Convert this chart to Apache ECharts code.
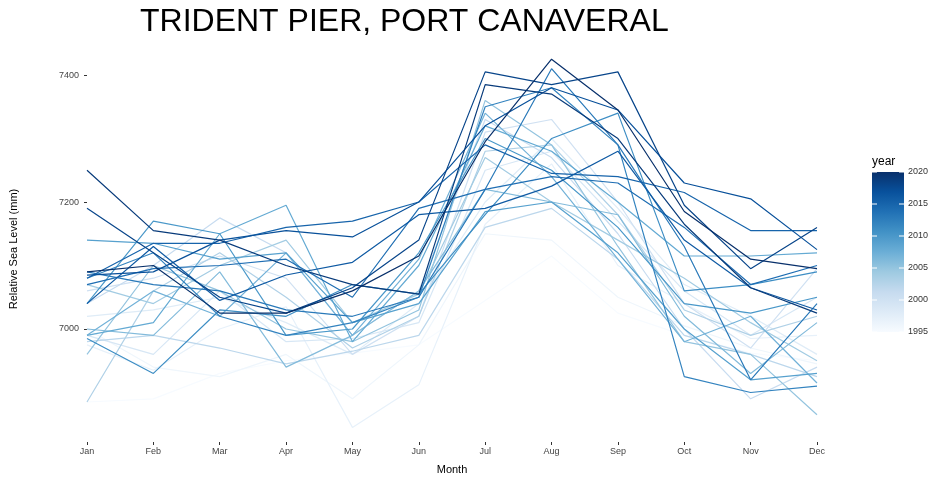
<!DOCTYPE html>
<html lang="en">
<head>
<meta charset="UTF-8"/>
<title>Trident Pier</title>
<script src="https://cdn.jsdelivr.net/npm/echarts@6/dist/echarts.min.js"></script>
</head>
<body style="margin:0">
<div id="main" style="width:940px;height:480px"></div>
<script type="text/javascript">
var months = ['Jan','Feb','Mar','Apr','May','Jun','Jul','Aug','Sep','Oct','Nov','Dec'];
var years = [1995,1996,1997,1998,1999,2000,2001,2002,2003,2004,2005,2006,2007,2008,2009,2010,2011,2012,2013,2014,2015,2016,2017,2018,2019,2020];
var levels = [
    [6885,6890,6930,6950,6962,6975,7045,7115,7025,6990,6962,6950],
    [7000,6940,6925,6960,6890,6975,7150,7140,7050,7005,6970,6945],
    [6975,6935,7000,7035,6845,6912,7165,7260,7100,7040,6985,6990],
    [7020,7030,7050,7010,6960,7040,7200,7300,7190,7070,7020,6960],
    [6990,6960,7060,6980,6985,7010,7250,7280,7170,7060,6990,7050],
    [7060,7080,7115,7080,6960,7020,7310,7330,7200,7040,6970,7095],
    [7040,7100,7175,7120,6990,7060,7330,7270,7150,7000,6890,6940],
    [6980,6990,6970,6945,6965,6990,7160,7190,7110,6990,6960,6925],
    [6885,7060,7120,7050,6970,7020,7280,7290,7180,7030,6990,7020],
    [7070,7040,7100,7140,7010,7055,7270,7200,7140,7080,7010,6950],
    [6960,7100,7060,7000,6980,7030,7360,7290,7130,6980,6960,6865],
    [7000,6990,7090,6940,6990,7060,7220,7200,7180,7020,6930,7010],
    [6990,7060,7020,7120,6990,7110,7340,7240,7110,6980,7020,6915],
    [6990,7010,7150,7195,6980,7100,7320,7280,7200,7115,7115,7120],
    [7140,7135,7110,7120,7010,7040,7185,7200,7120,7000,6920,6930],
    [7040,7170,7150,6990,7000,7120,7300,7250,7160,7040,7025,7050],
    [6985,6930,7030,7020,7070,7055,7180,7300,7340,7060,7070,7090],
    [7080,7120,7020,6990,7010,7050,7350,7380,7290,6925,6900,6910],
    [7090,7070,7060,7030,7020,7050,7220,7410,7290,7130,6920,7040],
    [7070,7095,7100,7110,7050,7190,7220,7240,7230,7160,7070,7100],
    [7080,7135,7135,7160,7170,7200,7290,7245,7240,7215,7155,7155],
    [7040,7130,7045,7085,7105,7180,7190,7225,7280,7140,7065,7030],
    [7085,7090,7140,7155,7145,7200,7320,7380,7345,7230,7205,7125],
    [7190,7120,7050,7025,7065,7140,7405,7385,7405,7195,7095,7160],
    [7250,7155,7140,7100,7070,7055,7385,7370,7300,7165,7065,7025],
    [7090,7100,7025,7025,7060,7115,7295,7425,7345,7185,7110,7095]
];
var legendTicks = [1995,2000,2005,2010,2015,2020];
var blues = ['#f7fbff','#deebf7','#c6dbef','#9ecae1','#6baed6','#4292c6','#2171b5','#08519c','#08306b'];

function yearColor(y) {
    return echarts.color.lerp((y - 1995) / 25, blues);
}

var myChart = echarts.init(document.getElementById('main'));
var series = [];
for (var i = 0; i < years.length; i++) {
    series.push({
        name: String(years[i]),
        type: 'line',
        data: levels[i],
        showSymbol: false,
        color: yearColor(years[i]),
        lineStyle: {width: 1.2, color: yearColor(years[i])}
    });
}

// colour bar legend
var barLeft = 872, barTop = 172, barW = 32, barH = 160;
var stops = blues.map(function (c, k) { return {offset: 1 - k / (blues.length - 1), color: c}; }).reverse();
var graphics = [{
    type: 'rect', shape: {x: barLeft, y: barTop, width: barW, height: barH},
    style: {fill: new echarts.graphic.LinearGradient(0, 1, 0, 0, blues.map(function (c, k) {
        return {offset: k / (blues.length - 1), color: c};
    }))}
}, {
    type: 'text', x: barLeft, y: barTop - 16,
    style: {text: 'year', fontSize: 12, fill: '#000', fontFamily: 'Liberation Sans'}
}];
legendTicks.forEach(function (y) {
    var ty = barTop + barH - (y - 1995) / 25 * barH;
    graphics.push({type: 'line', shape: {x1: barLeft, y1: ty, x2: barLeft + 5, y2: ty}, style: {stroke: '#fff'}});
    graphics.push({type: 'line', shape: {x1: barLeft + barW - 5, y1: ty, x2: barLeft + barW, y2: ty}, style: {stroke: '#fff'}});
    graphics.push({
        type: 'text', x: barLeft + barW + 4, y: ty - 5,
        style: {text: String(y), fontSize: 9, fill: '#333', fontFamily: 'Liberation Sans'}
    });
});

var option = {
    animation: false,
    textStyle: {fontFamily: 'Liberation Sans'},
    title: {
        text: 'TRIDENT PIER, PORT CANAVERAL', left: 135, top: 1,
        textStyle: {fontSize: 32, fontWeight: 'normal', color: '#000'}
    },
    grid: {left: 80, right: 123, top: 56, bottom: 35},
    xAxis: {
        type: 'category', data: months, boundaryGap: false,
        name: 'Month', nameLocation: 'middle', nameGap: 22,
        nameTextStyle: {fontSize: 11, color: '#000'},
        axisLine: {show: false},
        axisTick: {show: true, length: 3, lineStyle: {color: '#333'}},
        axisLabel: {fontSize: 9, color: '#444', margin: 5},
        splitLine: {show: false}
    },
    yAxis: {
        type: 'value', min: 6822, max: 7430,
        name: 'Relative Sea Level (mm)', nameLocation: 'middle', nameGap: 68,
        nameTextStyle: {fontSize: 11, color: '#000'},
        axisLine: {show: false},
        axisTick: {show: true, length: 3, customValues: [7000, 7200, 7400], lineStyle: {color: '#333'}},
        axisLabel: {fontSize: 9, color: '#444', customValues: [7000, 7200, 7400], formatter: function (v) { return String(v); }},
        splitLine: {show: false}
    },
    graphic: graphics,
    series: series
};
myChart.setOption(option);
</script>
</body>
</html>
